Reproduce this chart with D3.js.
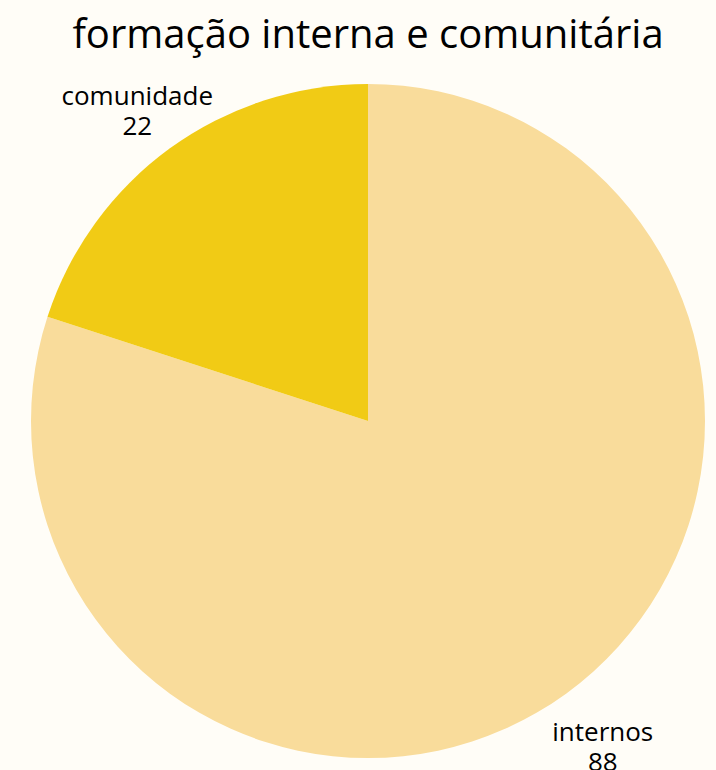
<!DOCTYPE html>
<html>
<head>
<meta charset="utf-8">
<script src="https://cdn.jsdelivr.net/npm/d3@7"></script>
<style>
  body { margin: 0; background: #fffdf7; }
  svg { display: block; font-family: "Open Sans", sans-serif; }
</style>
</head>
<body>
<svg id="chart" width="716" height="770"></svg>
<script>
// data
const categories = ["internos", "comunidade"];
const values = [88, 22];
const colors = ["#f9dc9b", "#f1cb15"];
const title = "formação interna e comunitária";

let width = 716;
let height = 770;
let cx = 368;
let cy = 421;
let radius = 337;

let svg = d3.select("#chart");

svg.append("rect")
    .attr("width", width)
    .attr("height", height)
    .attr("fill", "#fffdf7");

// title
svg.append("text")
    .attr("x", cx)
    .attr("y", 48)
    .attr("text-anchor", "middle")
    .attr("font-size", 40)
    .attr("fill", "#000")
    .text(title);

let data = categories.map((c, i) => ({name: c, value: values[i], color: colors[i]}));

let pie = d3.pie()
    .value(d => d.value)
    .sort(null);

let arc = d3.arc()
    .innerRadius(0)
    .outerRadius(radius);

let labelArc = d3.arc()
    .innerRadius(radius * 1.175)
    .outerRadius(radius * 1.175);

let g = svg.append("g")
    .attr("transform", `translate(${cx},${cy})`);

// slices
g.selectAll("path.slice")
    .data(pie(data))
    .join("path")
    .attr("class", "slice")
    .attr("d", arc)
    .attr("fill", d => d.data.color);

// labels
let labels = g.selectAll("text.label")
    .data(pie(data))
    .join("text")
    .attr("class", "label")
    .attr("text-anchor", "middle")
    .attr("font-size", 26)
    .attr("fill", "#000")
    .attr("transform", d => {
      let [x, y] = labelArc.centroid(d);
      // upper labels sit a little lower than lower ones
      let dy = y < 0 ? 4 : 0;
      return `translate(${x + 2},${y + dy})`;
    });

labels.append("tspan")
    .attr("x", 0)
    .attr("dy", 0)
    .text(d => d.data.name);

labels.append("tspan")
    .attr("x", 0)
    .attr("dy", 30)
    .text(d => d.data.value);
</script>
</body>
</html>
